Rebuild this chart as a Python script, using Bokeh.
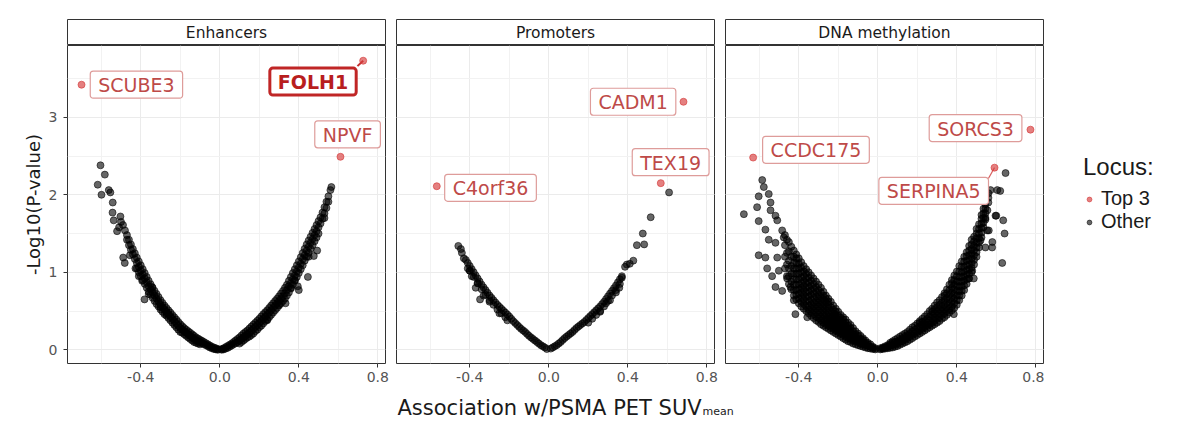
from bokeh.plotting import figure
from bokeh.layouts import column, row
from bokeh.models import Range1d, FixedTicker, PrintfTickFormatter, Label, Legend, LegendItem, Grid
from bokeh.core.properties import value
from bokeh.embed import file_html
from bokeh.resources import INLINE

# ---------------- data ----------------
panel_names = ["Enhancers", "Promoters", "DNA methylation"]

# Enhancers (other loci): dense band read column by column, plus scattered loci
enh_col_x = [-0.01,-0.02,-0.03,-0.04,-0.05,-0.06,-0.07,-0.08,-0.09,-0.10,-0.11,-0.12,-0.13,-0.14,-0.15,-0.16,-0.17,-0.18,-0.19,-0.20,
             -0.21,-0.22,-0.23,-0.24,-0.25,-0.26,-0.27,-0.28,-0.29,-0.30,-0.31,-0.32,-0.33,-0.34,-0.35,-0.36,-0.37,-0.38,-0.39,-0.40,
             -0.41,-0.42,-0.43,-0.44,-0.45,-0.46,-0.47,-0.48,-0.49,
             0.01,0.02,0.03,0.04,0.05,0.06,0.07,0.08,0.09,0.10,0.11,0.12,0.13,0.14,0.15,0.16,0.17,0.18,0.19,0.20,
             0.21,0.22,0.23,0.24,0.25,0.26,0.27,0.28,0.29,0.30,0.31,0.32,0.33,0.34,0.35,0.36,0.37,0.38,0.39,0.40,
             0.41,0.42,0.43,0.44,0.45,0.46,0.47,0.48,0.49,0.50,0.51,0.52,0.53,0.54,0.55,0.56,0.565]
enh_col_y = [[0.01,0.00],[0.02,0.005],[0.03,0.01],[0.04,0.02],[0.055,0.03],[0.07,0.045],[0.085,0.06],[0.10,0.07],[0.115,0.085],
             [0.13,0.10,0.07],[0.145,0.11,0.08],[0.16,0.125,0.09],[0.18,0.14,0.10],[0.20,0.16,0.12],[0.22,0.18,0.14],[0.24,0.20,0.16],
             [0.26,0.22,0.18],[0.28,0.24,0.20],[0.305,0.26,0.22],[0.33,0.28,0.23],[0.36,0.31,0.26],[0.39,0.34,0.29],[0.42,0.37,0.32],
             [0.45,0.40,0.35],[0.48,0.43,0.38],[0.51,0.46,0.41],[0.54,0.49,0.44],[0.57,0.52,0.46],[0.605,0.55,0.49],[0.64,0.58,0.52],
             [0.68,0.62,0.56],[0.72,0.66,0.59],[0.76,0.70,0.63],[0.80,0.74,0.67],[0.845,0.78,0.71],[0.89,0.82,0.75],[0.94,0.87,0.80],
             [0.99,0.92,0.85],[1.04,0.97,0.90],[1.09,1.02,0.95],[1.14,1.07,1.00],[1.19,1.12,1.05],[1.245,1.17],[1.30,1.23],[1.36,1.29],
             [1.42,1.35],[1.48,1.42],[1.54],[1.61],
             [0.01,0.00],[0.02,0.005],[0.035,0.015],[0.05,0.025],[0.065,0.04],[0.08,0.055],[0.10,0.07],[0.12,0.085],[0.14,0.10],
             [0.16,0.12,0.08],[0.185,0.14,0.10],[0.21,0.16,0.12],[0.23,0.18,0.14],[0.25,0.20,0.16],[0.275,0.22,0.17],[0.30,0.245,0.19],
             [0.325,0.27,0.21],[0.35,0.295,0.24],[0.375,0.32,0.26],[0.40,0.345,0.29],[0.43,0.37,0.31],[0.46,0.40,0.34],[0.485,0.425,0.37],
             [0.51,0.45,0.39],[0.54,0.48,0.42],[0.57,0.51,0.45],[0.60,0.54,0.48],[0.63,0.57,0.51],[0.66,0.60,0.54],[0.69,0.63,0.57],
             [0.725,0.66,0.60],[0.76,0.69,0.63],[0.80,0.73,0.66],[0.84,0.77,0.70],[0.89,0.82,0.74],[0.94,0.86,0.79],[0.99,0.91,0.84],
             [1.04,0.96,0.89],[1.09,1.01,0.94],[1.14,1.06,0.99],[1.195,1.11,1.04],[1.25,1.17,1.09],[1.305,1.22,1.15],[1.36,1.28,1.20],
             [1.41,1.33,1.25],[1.46,1.38,1.30],[1.51,1.43,1.35],[1.56,1.48,1.40],[1.61,1.53,1.45],[1.66,1.58],[1.71,1.63],[1.77,1.69],
             [1.84,1.76],[1.91,1.83],[1.98,1.91],[2.06],[2.10]]
enh_scatter_x = [-0.604,-0.582,-0.618,-0.599,-0.562,-0.554,-0.542,-0.543,-0.537,-0.503,-0.52,-0.51,-0.50,-0.489,-0.481,-0.455,
                 -0.427,-0.41,-0.393,-0.381,-0.36,-0.343,-0.30,-0.27,
                 0.493,0.476,0.45,0.446,0.40,0.395,0.38,0.36,0.333,0.30,0.24,0.50,0.53]
enh_scatter_y = [2.38,2.26,2.13,2.00,2.06,2.03,1.90,1.77,1.67,1.72,1.53,1.58,1.65,1.19,1.12,1.22,
                 1.05,0.95,0.89,0.65,0.72,0.81,0.55,0.47,
                 1.28,1.21,1.20,0.94,0.77,0.82,0.90,0.80,0.60,0.58,0.38,1.50,1.70]

# Promoters (other loci)
pro_col_x = [-0.01,-0.02,-0.03,-0.04,-0.05,-0.06,-0.07,-0.08,-0.09,-0.10,-0.11,-0.12,-0.13,-0.14,-0.15,-0.16,-0.17,-0.18,-0.19,-0.20,
             -0.21,-0.22,-0.23,-0.24,-0.25,-0.26,-0.27,-0.28,-0.29,-0.30,-0.31,-0.32,-0.33,-0.34,-0.35,-0.36,-0.37,-0.38,-0.39,-0.40,
             -0.41,-0.42,-0.44,-0.445,-0.458,
             0.01,0.02,0.03,0.04,0.05,0.06,0.07,0.08,0.09,0.10,0.11,0.12,0.13,0.14,0.15,0.16,0.17,0.18,0.19,0.20,
             0.21,0.22,0.23,0.24,0.25,0.26,0.27,0.28,0.29,0.30,0.31,0.32,0.33,0.34,0.35,0.36,0.37]
pro_col_y = [[0.01],[0.03],[0.045],[0.06],[0.08],[0.10],[0.12],[0.14],[0.16],[0.18],
             [0.205],[0.23],[0.25],[0.27],[0.295],[0.32],[0.345],[0.37],[0.40],[0.43],
             [0.455],[0.48,0.42],[0.505],[0.53,0.47],[0.555],[0.58,0.52],[0.61],[0.64,0.58],[0.67],[0.70,0.64],
             [0.735],[0.77,0.71],[0.805],[0.84,0.78],[0.88],[0.92,0.86],[0.96],[1.00,0.94],[1.04],[1.08,1.02],
             [1.12],[1.16],[1.25],[1.30],[1.34],
             [0.015],[0.03],[0.045],[0.06],[0.08],[0.10],[0.125],[0.15],[0.17],[0.19],
             [0.21],[0.23],[0.255],[0.28],[0.30],[0.32],[0.34],[0.36],[0.385],[0.41,0.35],
             [0.435],[0.46,0.40],[0.485],[0.51,0.45],[0.535],[0.56,0.50],[0.59],[0.62,0.56],[0.655],[0.69,0.63],
             [0.725],[0.76,0.70],[0.795],[0.83,0.77],[0.87],[0.91,0.85],[0.95]]
pro_scatter_x = [-0.348,-0.37,-0.39,-0.41,-0.33,-0.30,-0.25,-0.21,-0.43,-0.36,-0.40,
                 0.386,0.395,0.41,0.428,0.446,0.483,0.476,0.516,0.609,0.357,0.31,0.26,0.37,0.34,0.29]
pro_scatter_y = [0.65,0.80,0.95,1.05,0.70,0.62,0.47,0.38,1.18,0.86,1.02,
                 1.07,1.10,1.11,1.15,1.35,1.36,1.50,1.71,2.03,0.80,0.64,0.49,0.93,0.74,0.60]

# DNA methylation (other loci): dense wedges read column by column
dna_col_x = [-0.0125,-0.025,-0.0375,-0.05,-0.0625,-0.075,-0.0875,-0.10,-0.1125,-0.125,-0.1375,-0.15,-0.1625,-0.175,-0.1875,-0.20,
             -0.2125,-0.225,-0.2375,-0.25,-0.2625,-0.275,-0.2875,-0.30,-0.3125,-0.325,-0.3375,-0.35,-0.3625,-0.375,-0.3875,-0.40,
             -0.4125,-0.425,-0.4375,-0.45,-0.46,-0.47,
             0.0125,0.025,0.0375,0.05,0.0625,0.075,0.0875,0.10,0.1125,0.125,0.1375,0.15,0.1625,0.175,0.1875,0.20,
             0.2125,0.225,0.2375,0.25,0.2625,0.275,0.2875,0.30,0.3125,0.325,0.3375,0.35,0.3625,0.375,0.3875,0.40,
             0.4125,0.425,0.4375,0.45,0.4625,0.475,0.4875,0.50,0.5125,0.525,0.535,0.545,0.56]
dna_col_y = [[0.005,0.02],[0.01,0.025,0.04],[0.015,0.04,0.07],[0.02,0.05,0.07,0.09],[0.03,0.06,0.09,0.12],
             [0.04,0.07,0.10,0.13,0.15],[0.05,0.08,0.11,0.14,0.18],[0.06,0.10,0.14,0.18,0.21],[0.07,0.11,0.15,0.20,0.24],
             [0.08,0.12,0.16,0.20,0.24,0.28],[0.10,0.14,0.18,0.23,0.28,0.32],[0.11,0.15,0.19,0.23,0.27,0.31,0.35],
             [0.13,0.17,0.21,0.26,0.30,0.35,0.39],[0.15,0.19,0.23,0.27,0.31,0.35,0.39,0.42],[0.17,0.21,0.25,0.29,0.33,0.37,0.41,0.45],
             [0.19,0.23,0.27,0.31,0.35,0.39,0.44,0.49],[0.21,0.25,0.29,0.33,0.37,0.41,0.45,0.49,0.53],
             [0.23,0.27,0.31,0.35,0.39,0.43,0.47,0.52,0.57],[0.25,0.29,0.33,0.37,0.41,0.45,0.50,0.55,0.62],
             [0.27,0.31,0.35,0.39,0.43,0.48,0.53,0.58,0.62,0.66],[0.29,0.33,0.37,0.41,0.46,0.51,0.56,0.61,0.66,0.70],
             [0.31,0.35,0.40,0.45,0.50,0.55,0.60,0.65,0.70,0.75],[0.33,0.38,0.43,0.48,0.53,0.58,0.63,0.68,0.74,0.80],
             [0.36,0.41,0.46,0.51,0.56,0.61,0.66,0.71,0.77,0.84],[0.38,0.43,0.48,0.53,0.58,0.63,0.69,0.75,0.81,0.88],
             [0.41,0.46,0.51,0.56,0.61,0.67,0.73,0.79,0.85,0.92],[0.44,0.49,0.54,0.59,0.65,0.71,0.77,0.83,0.89,0.96],
             [0.47,0.52,0.57,0.63,0.69,0.75,0.81,0.87,0.93,1.00],[0.50,0.56,0.62,0.68,0.74,0.80,0.86,0.92,0.98,1.04],
             [0.53,0.59,0.65,0.71,0.77,0.83,0.89,0.95,1.01,1.08],[0.56,0.62,0.68,0.74,0.80,0.86,0.93,1.00,1.06,1.13],
             [0.60,0.66,0.72,0.78,0.84,0.91,0.98,1.05,1.11,1.18],[0.65,0.71,0.77,0.84,0.91,0.98,1.05,1.12,1.18,1.23],
             [0.70,0.77,0.84,0.91,0.98,1.05,1.12,1.20,1.28],[0.78,0.88,0.98,1.08,1.20,1.33],[0.85,0.95,1.05,1.15,1.27,1.39],
             [0.95,1.10,1.25,1.42],[1.05,1.20,1.35,1.48],
             [0.005,0.02],[0.01,0.02,0.03],[0.015,0.03,0.045],[0.02,0.04,0.06],[0.025,0.05,0.07,0.09],[0.03,0.06,0.09,0.11],
             [0.04,0.07,0.10,0.13],[0.05,0.08,0.11,0.15],[0.065,0.10,0.13,0.17],[0.08,0.11,0.15,0.19],[0.095,0.13,0.17,0.21],
             [0.11,0.15,0.19,0.23],[0.13,0.17,0.21,0.26],[0.15,0.19,0.24,0.29],[0.17,0.21,0.26,0.31],[0.19,0.23,0.28,0.34],
             [0.21,0.25,0.30,0.35,0.37],[0.23,0.27,0.32,0.36,0.40],[0.25,0.29,0.33,0.37,0.43],[0.27,0.31,0.35,0.40,0.46],
             [0.29,0.33,0.38,0.43,0.50],[0.31,0.35,0.40,0.45,0.49,0.53],[0.33,0.37,0.42,0.47,0.52,0.57],[0.35,0.40,0.45,0.50,0.55,0.61],
             [0.37,0.42,0.47,0.52,0.58,0.64],[0.40,0.45,0.50,0.55,0.61,0.68],[0.42,0.47,0.52,0.58,0.64,0.70,0.73],
             [0.45,0.50,0.55,0.61,0.67,0.73,0.78],[0.48,0.53,0.59,0.65,0.71,0.77,0.84],[0.51,0.56,0.62,0.68,0.74,0.80,0.86,0.90],
             [0.54,0.60,0.66,0.72,0.78,0.84,0.90,0.96],[0.58,0.64,0.70,0.76,0.82,0.88,0.95,1.01],
             [0.64,0.70,0.76,0.82,0.88,0.94,1.01,1.08],[0.70,0.76,0.82,0.88,0.94,1.00,1.07,1.14],
             [0.77,0.83,0.89,0.95,1.01,1.07,1.14,1.20],[0.85,0.91,0.97,1.03,1.09,1.15,1.21,1.26],
             [0.92,0.98,1.04,1.10,1.16,1.22,1.28,1.34],[1.00,1.06,1.12,1.18,1.24,1.30,1.36,1.42],
             [1.10,1.16,1.22,1.28,1.34,1.40,1.46],[1.20,1.26,1.32,1.38,1.44,1.50,1.56],[1.32,1.38,1.44,1.50,1.56,1.62],
             [1.45,1.51,1.57,1.63,1.69,1.74],[1.58,1.64,1.70,1.76,1.82],[1.70,1.76,1.82,1.88,1.93],[1.90,1.96,2.02]]
dna_scatter_x = [-0.585,-0.678,-0.603,-0.552,-0.611,-0.543,-0.518,-0.603,-0.569,-0.509,-0.484,-0.552,-0.518,-0.603,-0.569,
                 -0.509,-0.56,-0.535,-0.501,-0.518,-0.484,-0.459,-0.442,-0.417,-0.357,-0.425,-0.577,-0.543,-0.476,
                 0.647,0.605,0.62,0.571,0.596,0.635,0.642,0.562,0.545,0.579,0.52,0.63,0.478,0.461,0.486,0.385,0.545,0.555,0.60,0.58,0.554]
dna_scatter_y = [2.19,1.75,1.98,2.01,1.84,1.80,1.73,1.66,1.55,1.67,1.54,1.42,1.38,1.22,1.19,
                 1.19,1.05,0.95,1.02,0.81,0.76,0.92,0.81,0.46,0.42,0.64,2.10,1.90,1.45,
                 2.28,2.06,2.05,2.06,1.73,1.67,1.50,1.54,1.32,1.32,1.41,1.12,1.02,0.92,0.92,0.46,1.68,1.80,1.73,1.39,1.54]

# Top 3 loci per panel
top_names = [["SCUBE3", "FOLH1", "NPVF"], ["CADM1", "TEX19", "C4orf36"], ["SORCS3", "SERPINA5", "CCDC175"]]
top_x = [[-0.700, 0.726, 0.611], [0.682, 0.567, -0.567], [0.773, 0.591, -0.631]]
top_y = [[3.42, 3.73, 2.49], [3.20, 2.15, 2.11], [2.84, 2.35, 2.48]]
label_x = [[-0.422, 0.472, 0.647], [0.427, 0.617, -0.295], [0.495, 0.283, -0.313]]
label_y = [[3.42, 3.46, 2.78], [3.20, 2.42, 2.09], [2.86, 2.05, 2.58]]
highlight = "FOLH1"
# connector segments (label corner -> point)
seg_panel = [0, 2]
seg_x0 = [0.697, 0.560]
seg_y0 = [3.66, 2.21]
seg_x1 = [0.726, 0.591]
seg_y1 = [3.73, 2.35]

x_ticks = [-0.4, 0.0, 0.4, 0.8]
x_minor = [-0.6, -0.2, 0.2, 0.6]
y_ticks = [0, 1, 2, 3]
y_minor = [0.5, 1.5, 2.5, 3.5]

legend_title = "Locus:"
legend_labels = ["Top 3", "Other"]
x_title = "Association w/PSMA PET SUV"
x_title_sub = "mean"
y_title = "-Log10(P-value)"


# ---------------- build ----------------
def flatten(cx_list, cy_list, sx, sy):
    xs, ys = [], []
    for cx, cys in zip(cx_list, cy_list):
        for cy in cys:
            xs.append(cx)
            ys.append(cy)
    return xs + sx, ys + sy


other = [flatten(enh_col_x, enh_col_y, enh_scatter_x, enh_scatter_y),
         flatten(pro_col_x, pro_col_y, pro_scatter_x, pro_scatter_y),
         flatten(dna_col_x, dna_col_y, dna_scatter_x, dna_scatter_y)]

FONT = "DejaVu Sans"
X_RANGE = (-0.771, 0.839)
Y_RANGE = (-0.177, 3.926)
widths = [390, 329, 325]
b_left = [67, 6, 6]
b_right = [5, 5, 1]
PANEL_H = 343
GRID = "#EBEBEB"
BORDER = "#333333"
LABEL_TXT = "#BE4A48"
LABEL_BORDER = "#DE9C9A"
TOP_COLOR = "#D63C3C"
OTHER_STYLE = dict(fill_color="black", fill_alpha=0.6, line_color="black", line_alpha=0.7, line_width=0.8)
TOP_STYLE = dict(fill_color=TOP_COLOR, fill_alpha=0.65, line_color=TOP_COLOR, line_alpha=0.65)

headers, panels = [], []
for i in range(3):
    h = figure(width=widths[i], height=45, x_range=Range1d(0, 1), y_range=Range1d(0, 1),
               min_border_left=b_left[i], min_border_right=b_right[i], min_border_top=19, min_border_bottom=0,
               x_axis_location=None, y_axis_location=None, toolbar_location=None, output_backend="svg")
    h.grid.visible = False
    h.outline_line_color = BORDER
    h.background_fill_color = "white"
    h.text(x=[0.5], y=[0.5], text=[panel_names[i]], text_align="center", text_baseline="middle",
           text_font=value(FONT), text_font_size="15.5px", text_color="#1A1A1A")
    headers.append(h)

    p = figure(width=widths[i], height=PANEL_H, x_range=Range1d(*X_RANGE), y_range=Range1d(*Y_RANGE),
               min_border_left=b_left[i], min_border_right=b_right[i], min_border_top=0,
               min_border_bottom=PANEL_H - 318,
               y_axis_location="left" if i == 0 else None, toolbar_location=None, output_backend="svg")
    p.outline_line_color = BORDER
    p.outline_line_width = 1
    xt = FixedTicker(ticks=x_ticks, minor_ticks=x_minor)
    p.xaxis.ticker = xt
    p.xgrid.ticker = xt
    p.xaxis.formatter = PrintfTickFormatter(format="%.1f")
    yt = FixedTicker(ticks=y_ticks, minor_ticks=y_minor)
    if i == 0:
        p.yaxis.ticker = yt
        p.ygrid.ticker = yt
        ygrids = list(p.ygrid)
    else:
        g = Grid(dimension=1, ticker=yt)
        p.add_layout(g)
        ygrids = [g]
    for g in list(p.xgrid) + ygrids:
        g.grid_line_color = GRID
        g.grid_line_width = 1
        g.minor_grid_line_color = "#F2F2F2"
        g.minor_grid_line_width = 1
    for ax in p.axis:
        ax.axis_line_color = None
        ax.major_tick_out = 4
        ax.major_tick_in = 0
        ax.minor_tick_out = 0
        ax.minor_tick_in = 0
        ax.major_tick_line_color = BORDER
        ax.major_label_text_font = FONT
        ax.major_label_text_font_size = "14px"
        ax.major_label_text_color = "#555555"
        ax.major_label_standoff = 4
    if i == 0:
        p.yaxis.major_label_standoff = 6
        p.yaxis.axis_label = y_title
        p.yaxis.axis_label_text_font = FONT
        p.yaxis.axis_label_text_font_size = "18px"
        p.yaxis.axis_label_text_font_style = "normal"
        p.yaxis.axis_label_text_color = "#1A1A1A"
        p.yaxis.axis_label_standoff = 2

    ox, oy = other[i]
    p.scatter(ox, oy, size=7, **OTHER_STYLE)
    for k in range(len(seg_panel)):
        if seg_panel[k] == i:
            p.segment(x0=[seg_x0[k]], y0=[seg_y0[k]], x1=[seg_x1[k]], y1=[seg_y1[k]],
                      line_color="#C43030" if i == 0 else "#D86060", line_width=2 if i == 0 else 1.2)
    p.scatter(top_x[i], top_y[i], size=7, **TOP_STYLE)
    for name, lx, ly in zip(top_names[i], label_x[i], label_y[i]):
        bold = name == highlight
        p.add_layout(Label(x=lx, y=ly, text=name, text_align="center", text_baseline="middle",
                           text_font=FONT, text_font_size="19px",
                           text_font_style="bold" if bold else "normal",
                           text_color="#B81E1E" if bold else LABEL_TXT,
                           background_fill_color="white",
                           border_line_color="#C02626" if bold else LABEL_BORDER,
                           border_line_width=3 if bold else 1.2,
                           padding=dict(left=8, right=8, top=3, bottom=2), border_radius=3))
    panels.append(p)

# shared x-axis title strip
block_w = sum(widths)
strip_h = 429 - 45 - PANEL_H
t = figure(width=block_w, height=strip_h, x_range=Range1d(0, block_w), y_range=Range1d(0, strip_h),
           min_border=0, x_axis_location=None, y_axis_location=None, toolbar_location=None, output_backend="svg")
t.grid.visible = False
t.outline_line_color = None
t.text(x=[397], y=[22], text=[x_title], text_align="left", text_baseline="alphabetic",
       text_font=value(FONT), text_font_size="21px", text_color="#1A1A1A")
t.text(x=[702], y=[18], text=[x_title_sub], text_align="left", text_baseline="alphabetic",
       text_font=value(FONT), text_font_size="11px", text_color="#1A1A1A")

# legend area (key renderers hold the top-3 / other DNA loci, outside this area's visible range)
lg = figure(width=1200 - block_w, height=429, x_range=Range1d(10, 11), y_range=Range1d(10, 11),
            min_border=0, x_axis_location=None, y_axis_location=None, toolbar_location=None, output_backend="svg")
lg.grid.visible = False
lg.outline_line_color = None
r_top_key = lg.scatter(top_x[2], top_y[2], size=9, **TOP_STYLE)
r_other_key = lg.scatter(dna_scatter_x, dna_scatter_y, size=9, **OTHER_STYLE)
legend = Legend(items=[LegendItem(label=value(legend_labels[0]), renderers=[r_top_key]),
                       LegendItem(label=value(legend_labels[1]), renderers=[r_other_key])],
                title=legend_title, location=(39, 196))
legend.title_text_font = "Liberation Sans"
legend.title_text_font_size = "24px"
legend.title_text_font_style = "normal"
legend.title_text_color = "#1A1A1A"
legend.title_standoff = 6
legend.label_text_font = "Liberation Sans"
legend.label_text_font_size = "20px"
legend.label_text_color = "#1A1A1A"
legend.glyph_width = 12
legend.glyph_height = 20
legend.label_standoff = 6
legend.spacing = 0
legend.padding = 5
legend.margin = 0
legend.border_line_color = None
legend.background_fill_alpha = 0
lg.add_layout(legend)

layout = row(column(row(*headers), row(*panels), t), lg)
open("out.html", "w").write(file_html(layout, INLINE))
